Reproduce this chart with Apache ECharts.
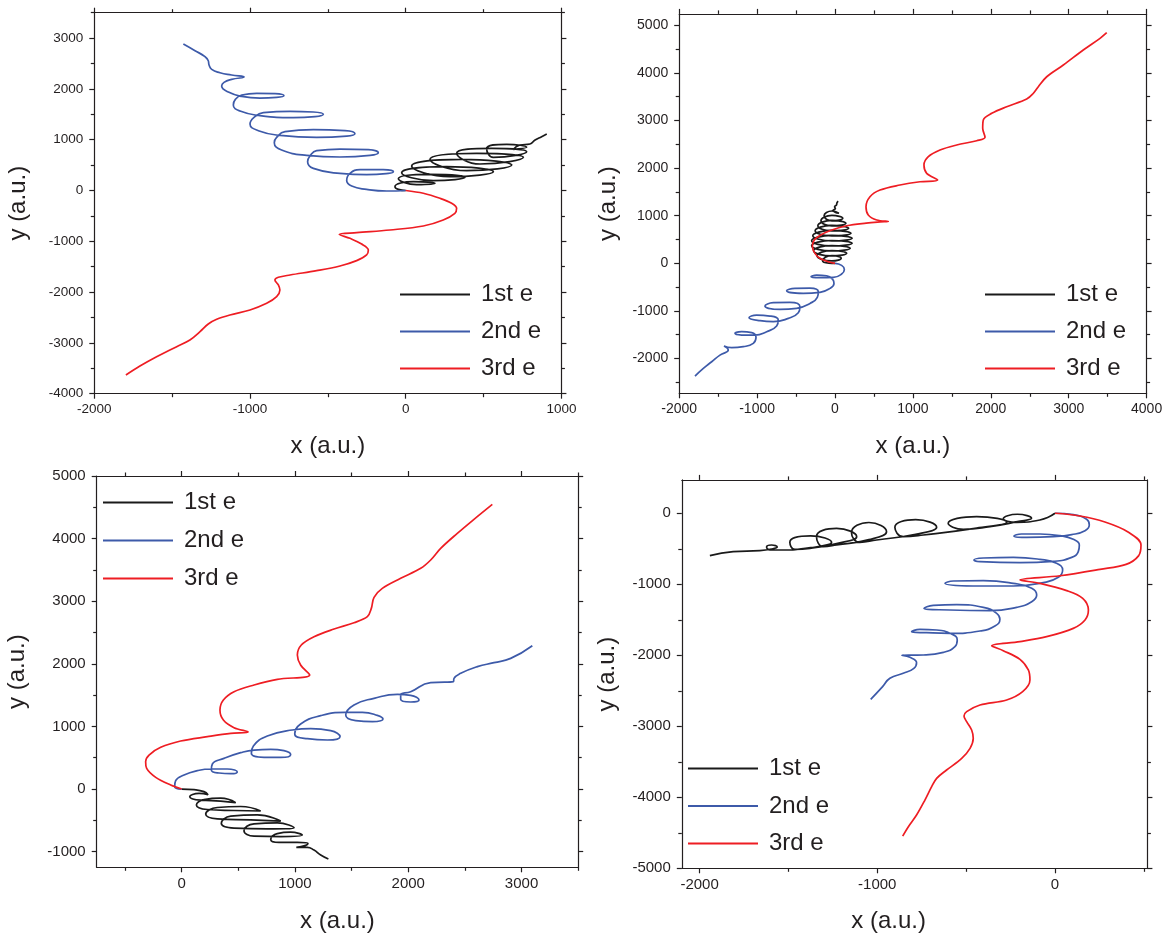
<!DOCTYPE html>
<html><head><meta charset="utf-8">
<script src="https://cdn.jsdelivr.net/npm/echarts@6/dist/echarts.min.js"></script>
<style>html,body{margin:0;padding:0;background:#fff}#c{width:1163px;height:935px}</style>
</head><body><div id="c"></div>
<script>
// ---------- names ----------
const seriesNames = ['1st e', '2nd e', '3rd e'];

// ---------- panel 1 (top-left) ----------
const p1Black = [[0,0],[-47,23],[-69,76],[49,174],[188,141],[70,115],[-47,233],[156,318],[381,259],[178,194],[-26,351],[263,469],[563,371],[285,273],[38,482],[360,614],[681,502],[392,391],[156,614],[456,732],[756,653],[477,522],[327,732],[552,830],[777,765],[563,653],[520,824],[649,909],[777,850],[691,811],[734,896],[798,916],[831,994],[873,1060],[906,1112]];
const p1Blue = [[-1428,2883],[-1353,2752],[-1289,2634],[-1268,2555],[-1263,2470],[-1246,2385],[-1193,2319],[-1118,2273],[-1038,2234],[-1118,2188],[-1167,2129],[-1182,2057],[-1139,1938],[-1053,1853],[-936,1820],[-829,1833],[-782,1866],[-839,1906],[-957,1912],[-1053,1879],[-1094,1794],[-1107,1683],[-1064,1564],[-936,1473],[-722,1433],[-582,1453],[-529,1499],[-593,1545],[-743,1558],[-914,1532],[-974,1440],[-1000,1309],[-946,1177],[-807,1085],[-572,1046],[-379,1072],[-326,1118],[-390,1177],[-593,1197],[-775,1158],[-829,1046],[-844,941],[-797,797],[-636,692],[-422,659],[-229,692],[-176,744],[-240,803],[-422,816],[-572,784],[-615,679],[-630,567],[-593,436],[-422,337],[-251,311],[-111,337],[-79,370],[-144,409],[-293,409],[-358,337],[-379,196],[-347,88],[-251,22],[-122,-10],[0,0]];
const p1Red = [[0,0],[113,-55],[220,-154],[295,-252],[327,-351],[316,-449],[241,-580],[113,-699],[-101,-777],[-315,-830],[-427,-863],[-358,-941],[-283,-1053],[-240,-1171],[-251,-1269],[-315,-1381],[-422,-1486],[-572,-1578],[-743,-1663],[-818,-1709],[-840,-1762],[-818,-1860],[-808,-1958],[-829,-2090],[-893,-2221],[-1000,-2352],[-1129,-2451],[-1214,-2536],[-1268,-2628],[-1321,-2779],[-1386,-2943],[-1471,-3074],[-1600,-3271],[-1707,-3455],[-1797,-3632]];
const p1XMajor = [-2000,-1000,0,1000];
const p1XMinor = [-1500,-500,500];
const p1YMajor = [-4000,-3000,-2000,-1000,0,1000,2000,3000];
const p1YMinor = [-3500,-2500,-1500,-500,500,1500,2500,3500];

// ---------- panel 2 (top-right) ----------
const p2Black = [[0,0],[-80,5],[-160,55],[-40,165],[80,107],[-40,50],[-230,160],[-40,270],[150,212],[-40,155],[-275,265],[-40,375],[195,317],[-40,260],[-300,370],[-40,480],[220,422],[-40,365],[-300,476],[-40,586],[220,528],[-40,471],[-285,581],[-40,691],[205,633],[-40,576],[-255,686],[-40,796],[175,738],[-40,681],[-220,791],[-40,901],[140,843],[-40,786],[-180,896],[-40,1006],[100,948],[-40,891],[-140,1001],[-40,1100],[50,1053],[0,1075],[-25,1110],[5,1150],[-5,1190],[20,1230],[25,1270],[40,1305]];
const p2Blue = [[0,0],[85,-43],[120,-127],[85,-225],[-22,-295],[-193,-302],[-308,-281],[-236,-246],[-107,-260],[-30,-337],[-13,-421],[-64,-526],[-193,-610],[-407,-631],[-621,-575],[-514,-526],[-321,-519],[-214,-596],[-227,-715],[-321,-841],[-492,-946],[-706,-967],[-899,-897],[-792,-827],[-578,-820],[-450,-911],[-471,-1037],[-599,-1156],[-792,-1226],[-963,-1205],[-1104,-1142],[-1006,-1086],[-835,-1107],[-728,-1191],[-749,-1317],[-877,-1436],[-1027,-1506],[-1198,-1506],[-1284,-1471],[-1198,-1436],[-1070,-1457],[-1014,-1555],[-1049,-1681],[-1177,-1751],[-1327,-1772],[-1425,-1737],[-1370,-1822],[-1477,-1927],[-1583,-2067],[-1690,-2207],[-1797,-2368]];
const p2Red = [[0,0],[-86,34],[-193,105],[-257,210],[-290,350],[-270,480],[-200,580],[-60,690],[150,790],[400,845],[580,870],[684,880],[535,910],[427,1015],[398,1189],[449,1399],[578,1540],[834,1645],[1091,1714],[1318,1750],[1177,1891],[1142,2065],[1198,2240],[1348,2380],[1562,2485],[1819,2576],[1926,2647],[1896,2836],[1904,3011],[2012,3151],[2204,3290],[2461,3452],[2538,3557],[2610,3710],[2718,3920],[2931,4166],[3187,4481],[3402,4727],[3488,4845]];
const p2XMajor = [-2000,-1000,0,1000,2000,3000,4000];
const p2XMinor = [-1500,-500,500,1500,2500,3500];
const p2YMajor = [-2000,-1000,0,1000,2000,3000,4000,5000];
const p2YMinor = [-2500,-1500,-500,500,1500,2500,3500,4500];

// ---------- panel 3 (bottom-left) ----------
const p3Black = [[0,0],[109,-10],[197,-42],[233,-90],[153,-70],[71,-122],[168,-178],[344,-192],[477,-218],[344,-146],[197,-168],[130,-255],[227,-327],[462,-343],[697,-351],[521,-279],[315,-295],[212,-399],[315,-476],[609,-492],[874,-511],[668,-412],[433,-434],[350,-548],[462,-625],[756,-636],[992,-617],[844,-540],[639,-556],[550,-665],[639,-753],[874,-759],[1065,-735],[962,-689],[844,-711],[786,-804],[859,-852],[1021,-852],[1115,-868],[1095,-900],[1012,-932],[1109,-932],[1168,-974],[1227,-1054],[1295,-1118]];
const p3Blue = [[0,0],[-62,37],[-53,133],[21,224],[138,293],[256,320],[403,320],[468,304],[491,272],[433,245],[330,256],[262,304],[271,400],[374,490],[521,581],[639,623],[786,634],[903,613],[962,549],[874,506],[727,506],[615,570],[633,687],[756,847],[977,943],[1139,964],[1315,932],[1398,836],[1286,783],[1109,804],[998,879],[1050,1039],[1227,1172],[1439,1225],[1595,1225],[1727,1177],[1777,1118],[1683,1076],[1536,1092],[1448,1182],[1521,1342],[1698,1449],[1904,1513],[2021,1497],[2095,1422],[2021,1390],[1933,1433],[1933,1502],[2021,1555],[2198,1699],[2398,1715],[2404,1768],[2463,1848],[2610,1955],[2757,2018],[2904,2087],[3095,2289]];
const p3Red = [[0,0],[-97,64],[-229,187],[-309,330],[-318,437],[-288,543],[-185,666],[-9,767],[227,836],[433,889],[586,911],[462,980],[368,1102],[338,1262],[368,1422],[462,1555],[639,1662],[845,1752],[1130,1821],[1050,1981],[1021,2140],[1056,2300],[1168,2433],[1345,2556],[1521,2657],[1639,2753],[1674,2886],[1698,3062],[1771,3205],[1933,3365],[2110,3525],[2198,3658],[2286,3844],[2433,4084],[2580,4308],[2742,4547]];
const p3XMajor = [0,1000,2000,3000];
const p3XMinor = [-500,500,1500,2500,3500];
const p3YMajor = [-1000,0,1000,2000,3000,4000,5000];
const p3YMinor = [-500,500,1500,2500,3500,4500];

// ---------- panel 4 (bottom-right) ----------
const p4Black = [[0,0],[-85,-95],[-216,-127],[-291,-76],[-212,-14],[-132,-71],[-212,-118],[-366,-188],[-516,-226],[-601,-142],[-441,-47],[-272,-127],[-441,-208],[-741,-306],[-854,-329],[-901,-198],[-784,-90],[-666,-198],[-784,-297],[-1004,-376],[-1098,-409],[-1145,-273],[-1047,-130],[-948,-259],[-1047,-372],[-1229,-447],[-1304,-470],[-1342,-329],[-1229,-214],[-1116,-329],[-1229,-428],[-1379,-494],[-1464,-508],[-1492,-409],[-1375,-318],[-1257,-409],[-1375,-485],[-1548,-517],[-1604,-517],[-1623,-475],[-1595,-447],[-1563,-475],[-1595,-503],[-1661,-526],[-1811,-541],[-1942,-597]];
const p4Blue = [[0,0],[103,-20],[178,-85],[193,-165],[169,-245],[94,-301],[-9,-329],[-159,-339],[-231,-320],[-188,-292],[-84,-292],[28,-315],[103,-367],[137,-447],[131,-541],[94,-621],[-9,-677],[-197,-696],[-422,-682],[-456,-658],[-403,-630],[-234,-621],[-84,-649],[9,-705],[43,-799],[19,-902],[-66,-977],[-234,-1024],[-460,-1024],[-619,-987],[-572,-954],[-403,-949],[-234,-987],[-131,-1057],[-103,-1151],[-131,-1245],[-216,-1325],[-366,-1372],[-591,-1362],[-737,-1339],[-685,-1297],[-553,-1287],[-403,-1325],[-328,-1409],[-310,-1494],[-338,-1588],[-422,-1658],[-591,-1691],[-722,-1682],[-807,-1668],[-760,-1635],[-666,-1644],[-582,-1700],[-550,-1785],[-563,-1879],[-628,-1959],[-741,-1996],[-861,-2001],[-816,-2029],[-779,-2104],[-794,-2184],[-854,-2254],[-929,-2324],[-970,-2441],[-1037,-2621]];
const p4Red = [[0,0],[141,-38],[281,-123],[411,-263],[484,-446],[470,-600],[400,-720],[253,-790],[28,-880],[-197,-939],[-84,-987],[66,-1090],[156,-1198],[188,-1362],[169,-1503],[103,-1621],[-47,-1738],[-197,-1808],[-356,-1865],[-291,-1935],[-197,-2057],[-150,-2207],[-141,-2348],[-182,-2513],[-272,-2630],[-422,-2700],[-497,-2794],[-512,-2855],[-497,-2935],[-469,-3053],[-460,-3170],[-478,-3311],[-525,-3452],[-610,-3616],[-666,-3733],[-694,-3851],[-732,-4039],[-779,-4250],[-825,-4414],[-857,-4546]];
const p4XMajor = [-2000,-1000,0];
const p4XMinor = [-1500,-500,500];
const p4YMajor = [-5000,-4000,-3000,-2000,-1000,0];
const p4YMinor = [-4500,-3500,-2500,-1500,-500];

// ---------- styling / layout ----------
const FONT = '"Liberation Sans", Arial, Helvetica, sans-serif';
const INK = '#231f20';
const COLORS = ['#1a1a1a', '#3d5aa9', '#ee1d23'];
const SMOOTH = [0.5, 0.5, 0.35];

const panels = [
  { grid:[94.3, 12.7, 467.1, 381.0], x:[-2000,1000], y:[-4000,3500], xMaj:p1XMajor, xMin:p1XMinor, yMaj:p1YMajor, yMin:p1YMinor,
    data:[p1Black,p1Blue,p1Red], fs:13.5, xGap:41, xPad:0, yGap:64, legend:[400, 282.5, 13] },
  { grid:[679.2, 13.9, 467.4, 379.4], x:[-2000,4000], y:[-2730,5240], xMaj:p2XMajor, xMin:p2XMinor, yMaj:p2YMajor, yMin:p2YMinor,
    data:[p2Black,p2Blue,p2Red], fs:14, xGap:41, xPad:0, yGap:59, legend:[985, 282.5, 13] },
  { grid:[96.7, 476.0, 481.5, 391.3], x:[-750,3500], y:[-1250,5000], xMaj:p3XMajor, xMin:p3XMinor, yMaj:p3YMajor, yMin:p3YMinor,
    data:[p3Black,p3Blue,p3Red], fs:15, xGap:42, xPad:0, yGap:67, legend:[103, 490.5, 14] },
  { grid:[681.8, 479.9, 465.6, 388.4], x:[-2100,520], y:[-5000,470], xMaj:p4XMajor, xMin:p4XMinor, yMaj:p4YMajor, yMin:p4YMinor,
    data:[p4Black,p4Blue,p4Red], fs:15, xGap:41, xPad:52, yGap:62, legend:[688, 756.5, 13.5] }
];

const grids = [], xAxes = [], yAxes = [], series = [], legends = [];
const axisLineStyle = { color: INK, width: 1.2 };
const fmt = v => String(v);

function tickAxis(kind, gi, pos, range, ticks, len, showLine, label) {
  const ax = {
    type: 'value', gridIndex: gi, position: pos, min: range[0], max: range[1],
    splitLine: { show: false },
    axisLine: { show: showLine, onZero: false, lineStyle: axisLineStyle },
    axisTick: { show: true, inside: false, length: len, customValues: ticks, lineStyle: axisLineStyle },
    axisLabel: { show: false },
    axisPointer: { show: false }
  };
  if (label) {
    ax.axisLabel = { show: true, customValues: ticks, formatter: fmt, margin: label.margin,
      fontSize: label.fs, fontFamily: FONT, color: INK };
    ax.name = label.name; ax.nameLocation = 'middle'; ax.nameGap = label.gap;
    ax.nameTextStyle = { fontSize: 24, fontFamily: FONT, color: INK, padding: label.pad || 0 };
  }
  (kind === 'x' ? xAxes : yAxes).push(ax);
  return (kind === 'x' ? xAxes : yAxes).length - 1;
}

panels.forEach((p, gi) => {
  grids.push({ left: p.grid[0], top: p.grid[1], width: p.grid[2], height: p.grid[3], containLabel: false, outerBoundsMode: 'none' });
  const xi = tickAxis('x', gi, 'bottom', p.x, p.xMaj, 5, true,
    { fs: p.fs, margin: 9, name: 'x (a.u.)', gap: p.xGap, pad: [0, p.xPad, 0, 0] });
  tickAxis('x', gi, 'bottom', p.x, p.xMin, 3.5, false, null);
  tickAxis('x', gi, 'top', p.x, p.xMaj, 5, true, null);
  tickAxis('x', gi, 'top', p.x, p.xMin, 3.5, false, null);
  const yi = tickAxis('y', gi, 'left', p.y, p.yMaj, 5, true, { fs: p.fs, margin: 11, name: 'y (a.u.)', gap: p.yGap });
  tickAxis('y', gi, 'left', p.y, p.yMin, 3.5, false, null);
  tickAxis('y', gi, 'right', p.y, p.yMaj, 5, true, null);
  tickAxis('y', gi, 'right', p.y, p.yMin, 3.5, false, null);
  p.data.forEach((d, k) => {
    series.push({
      type: 'line', name: seriesNames[k], data: d, xAxisIndex: xi, yAxisIndex: yi,
      symbol: 'none', showSymbol: false, smooth: SMOOTH[k], clip: true,
      lineStyle: { color: COLORS[k], width: 1.7 }, itemStyle: { color: COLORS[k] },
      emphasis: { disabled: true }
    });
  });
  legends.push({
    orient: 'vertical', left: p.legend[0], top: p.legend[1], itemWidth: 70, itemHeight: 2,
    icon: 'rect', itemGap: p.legend[2], data: seriesNames, selectedMode: false, padding: 0,
    textStyle: { fontSize: 24, fontFamily: FONT, color: INK, padding: [0, 0, 0, 6] }
  });
});

const chart = echarts.init(document.getElementById('c'), null, { renderer: 'canvas' });
chart.setOption({
  animation: false,
  backgroundColor: '#ffffff',
  grid: grids, xAxis: xAxes, yAxis: yAxes, series: series, legend: legends,
  tooltip: { show: false }
});
</script></body></html>
